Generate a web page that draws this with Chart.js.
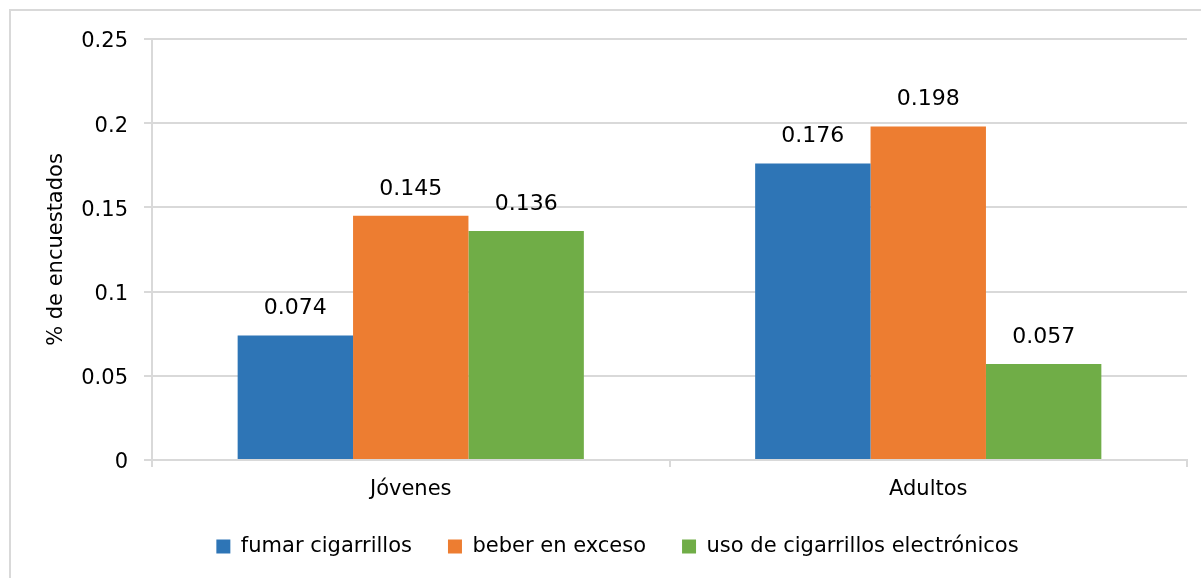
<!DOCTYPE html>
<html>
<head>
<meta charset="utf-8">
<script src="https://cdn.jsdelivr.net/npm/chart.js@4.4.0/dist/chart.umd.min.js"></script>
<style>
    html, body { margin: 0; padding: 0; background: #fff; }
    #frame {
        position: absolute; left: 9px; top: 9px;
        width: 1200px; height: 575px;
        border: 2px solid #d9d9d9; box-sizing: border-box;
    }
    #wrap { position: absolute; left: 0; top: 0; width: 1201px; height: 578px; }
</style>
</head>
<body>
<div id="frame"></div>
<div id="wrap"><canvas id="chart"></canvas></div>
<script>
// Chart data
const categories = ['Jóvenes', 'Adultos'];
const seriesNames = ['fumar cigarrillos', 'beber en exceso', 'uso de cigarrillos electrónicos'];
const fumarValues = [0.074, 0.176];
const beberValues = [0.145, 0.198];
const electronicosValues = [0.136, 0.057];
const yTicks = [0, 0.05, 0.1, 0.15, 0.2, 0.25];
const yTickLabels = ['0', '0.05', '0.1', '0.15', '0.2', '0.25'];

const colors = ['#2E75B6', '#ED7D31', '#70AD47'];
const fontFamily = '"DejaVu Sans", sans-serif';

// Value labels above each bar
const valueLabels = {
    id: 'valueLabels',
    afterDatasetsDraw(chart) {
        const ctx = chart.ctx;
        ctx.save();
        ctx.font = '22px ' + fontFamily;
        ctx.fillStyle = '#000';
        ctx.textAlign = 'center';
        ctx.textBaseline = 'middle';
        chart.data.datasets.forEach((ds, i) => {
            chart.getDatasetMeta(i).data.forEach((bar, j) => {
                ctx.fillText(String(ds.data[j]), bar.x, bar.y - 27);
            });
        });
        ctx.restore();
    }
};

new Chart(document.getElementById('chart'), {
    type: 'bar',
    data: {
        labels: categories,
        datasets: [
            { label: seriesNames[0], data: fumarValues, backgroundColor: colors[0] },
            { label: seriesNames[1], data: beberValues, backgroundColor: colors[1] },
            { label: seriesNames[2], data: electronicosValues, backgroundColor: colors[2] }
        ]
    },
    options: {
        responsive: true,
        maintainAspectRatio: false,
        animation: false,
        layout: { padding: { left: 48, right: 14, top: 39, bottom: 11 } },
        datasets: {
            bar: { barPercentage: 1, categoryPercentage: 0.669 }
        },
        plugins: {
            legend: {
                position: 'bottom',
                labels: {
                    font: { family: fontFamily, size: 21 },
                    color: '#000',
                    boxWidth: 14,
                    boxHeight: 14,
                    padding: 36
                }
            },
            tooltip: { enabled: false }
        },
        scales: {
            x: {
                afterFit: axis => { axis.height = 40; },
                grid: {
                    offset: true,
                    color: ctx => ctx.index === categories.length ? '#d9d9d9' : 'rgba(0,0,0,0)',
                    tickColor: '#d9d9d9',
                    tickLength: 7,
                    lineWidth: 2
                },
                border: { color: '#d9d9d9', width: 2 },
                ticks: {
                    font: { family: fontFamily, size: 21 },
                    color: '#000',
                    padding: 10
                }
            },
            y: {
                min: 0,
                max: 0.25,
                afterBuildTicks: axis => { axis.ticks = yTicks.map(v => ({ value: v })); },
                afterFit: axis => { axis.width = 104; },
                grid: {
                    color: '#d9d9d9',
                    tickColor: '#d9d9d9',
                    tickLength: 8,
                    lineWidth: 2
                },
                border: { color: '#d9d9d9', width: 2 },
                ticks: {
                    font: { family: fontFamily, size: 21 },
                    color: '#000',
                    padding: 16,
                    labelOffset: 3,
                    callback: (value, index) => yTickLabels[index]
                },
                title: {
                    display: true,
                    text: '% de encuestados',
                    font: { family: fontFamily, size: 21 },
                    color: '#000',
                    padding: { top: -4, bottom: 0 }
                }
            }
        }
    },
    plugins: [valueLabels]
});
</script>
</body>
</html>
